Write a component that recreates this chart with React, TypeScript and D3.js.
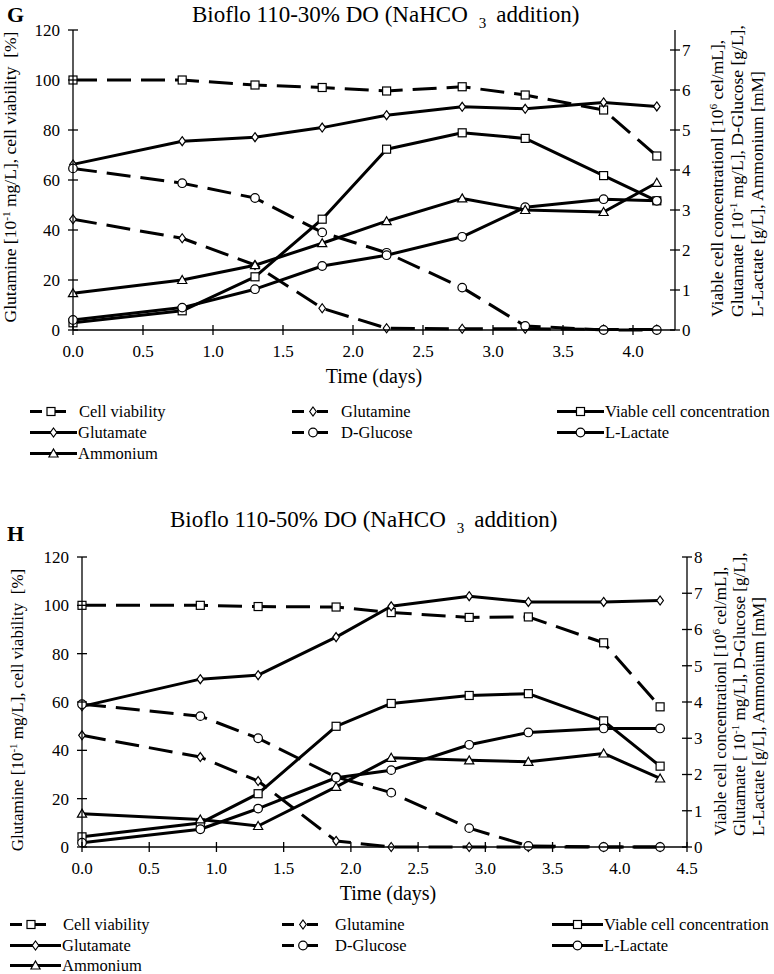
import React from 'react';
import * as d3 from 'd3';

// ---------- DATA: Panel G (Bioflo 110-30% DO) ----------
const timeG = [0, 0.78, 1.3, 1.78, 2.24, 2.78, 3.23, 3.79, 4.17];
const cellViabilityG = [100, 100, 98, 97, 95.6, 97.3, 94, 88, 69.6];
const glutamineG = [44.3, 36.7, 26, 8.7, 0.7, 0.5, 0.5, 0.2, 0.2];
const viableCellsG = [0.18, 0.48, 1.33, 2.77, 4.52, 4.93, 4.79, 3.86, 3.23];
const glutamateG = [4.14, 4.72, 4.82, 5.06, 5.37, 5.58, 5.53, 5.69, 5.59];
const glucoseG = [4.04, 3.67, 3.3, 2.44, 1.93, 1.06, 0.1, 0.0, 0.0];
const lactateG = [0.25, 0.56, 1.02, 1.6, 1.87, 2.33, 3.07, 3.27, 3.23];
const ammoniumG = [0.92, 1.25, 1.62, 2.17, 2.72, 3.29, 3.0, 2.95, 3.68];

// ---------- DATA: Panel H (Bioflo 110-50% DO) ----------
const timeH = [0, 0.88, 1.31, 1.89, 2.3, 2.88, 3.32, 3.88, 4.3];
const cellViabilityH = [100, 100, 99.5, 99.3, 97, 95, 95.2, 84.5, 58];
const glutamineH = [46.2, 37.2, 27.3, 2.5, 0, 0, 0, 0, 0];
const viableCellsH = [0.28, 0.66, 1.47, 3.33, 3.96, 4.18, 4.23, 3.48, 2.23];
const glutamateH = [3.88, 4.63, 4.74, 5.79, 6.64, 6.92, 6.76, 6.76, 6.8];
const glucoseH = [3.94, 3.61, 3.0, 1.93, 1.5, 0.52, 0.03, 0, 0];
const lactateH = [0.12, 0.49, 1.06, 1.91, 2.12, 2.82, 3.16, 3.27, 3.27];
const ammoniumH = [0.92, 0.76, 0.58, 1.66, 2.46, 2.39, 2.35, 2.58, 1.89];

// ---------- Tick labels ----------
const xTicksG = [0, 0.5, 1, 1.5, 2, 2.5, 3, 3.5, 4];
const xTicksH = [0, 0.5, 1, 1.5, 2, 2.5, 3, 3.5, 4, 4.5];
const leftTicks = [0, 20, 40, 60, 80, 100, 120];
const rightTicksG = [0, 1, 2, 3, 4, 5, 6, 7];
const rightTicksH = [0, 1, 2, 3, 4, 5, 6, 7, 8];

const seriesNames = [
  'Cell viability',
  'Glutamine',
  'Viable cell concentration',
  'Glutamate',
  'D-Glucose',
  'L-Lactate',
  'Ammonium',
];

type Shape = 'square' | 'diamond' | 'circle' | 'triangle';
interface SeriesStyle { axis: 'left' | 'right'; dashed: boolean; shape: Shape }
const seriesStyles: SeriesStyle[] = [
  { axis: 'left', dashed: true, shape: 'square' },
  { axis: 'left', dashed: true, shape: 'diamond' },
  { axis: 'right', dashed: false, shape: 'square' },
  { axis: 'right', dashed: false, shape: 'diamond' },
  { axis: 'right', dashed: true, shape: 'circle' },
  { axis: 'right', dashed: false, shape: 'circle' },
  { axis: 'right', dashed: false, shape: 'triangle' },
];

const FONT = '"Liberation Serif", "Times New Roman", Times, serif';

function Marker({ shape, x, y }: { shape: Shape; x: number; y: number }) {
  const common = { fill: '#fff', stroke: '#000', strokeWidth: 1.2 };
  if (shape === 'square') return <rect x={x - 4} y={y - 4} width={8} height={8} {...common} />;
  if (shape === 'circle') return <circle cx={x} cy={y} r={4.3} {...common} />;
  if (shape === 'diamond')
    return <path d={`M${x},${y - 4.5}L${x + 3.3},${y}L${x},${y + 4.5}L${x - 3.3},${y}Z`} {...common} />;
  return <path d={`M${x},${y - 4.5}L${x + 4.6},${y + 3.5}L${x - 4.6},${y + 3.5}Z`} {...common} />;
}

interface PanelCfg {
  xL: number; xR: number; yT: number; yB: number;
  xMax: number; xTicks: number[]; rightMax: number; rightTicks: number[];
  letter: string; letterY: number;
  title: string; titleX: number; titleY: number;
  leftLabelX: number; leftLabelY: number; axisLabelSize: number;
  rightLabelXs: number[]; rightLabelY: number;
  xLabelX: number; xLabelY: number;
  legendX0: number[]; legendYs: number[]; legendLen: number;
}

function Panel({ cfg, time, values }: { cfg: PanelCfg; time: number[]; values: number[][] }) {
  const x = d3.scaleLinear().domain([0, cfg.xMax]).range([cfg.xL, cfg.xR]);
  const yL = d3.scaleLinear().domain([0, 120]).range([cfg.yB, cfg.yT]);
  const yR = d3.scaleLinear().domain([0, cfg.rightMax]).range([cfg.yB, cfg.yT]);
  const tick = 5;

  const legendPos = (i: number) => {
    const row = Math.floor(i / 3);
    const col = i % 3;
    return { x0: cfg.legendX0[col], y: cfg.legendYs[row] };
  };

  return (
    <g fontFamily={FONT} fill="#000">
      {/* letter and title */}
      <text x={7} y={cfg.letterY} fontSize={22} fontWeight="bold">{cfg.letter}</text>
      <text x={cfg.titleX} y={cfg.titleY} fontSize={23}>
        {cfg.title}
        <tspan dx={11} dy={6} fontSize={15}>3</tspan>
        <tspan dx={10} dy={-6}>addition)</tspan>
      </text>

      {/* series */}
      {values.map((vals, si) => {
        const st = seriesStyles[si];
        const ys = st.axis === 'left' ? yL : yR;
        const pts = time.map((t, i) => [t, vals[i]] as [number, number]);
        const line = d3.line<[number, number]>().x((d) => x(d[0])).y((d) => ys(d[1]));
        return (
          <g key={si}>
            <path d={line(pts) || ''} fill="none" stroke="#000" strokeWidth={3}
              strokeDasharray={st.dashed ? '24,10' : undefined} strokeLinejoin="round" />
            {pts.map((p, i) => <Marker key={i} shape={st.shape} x={x(p[0])} y={ys(p[1])} />)}
          </g>
        );
      })}

      {/* axes */}
      <g stroke="#000" strokeWidth={1.3}>
        <line x1={cfg.xL} x2={cfg.xL} y1={cfg.yT} y2={cfg.yB} />
        <line x1={cfg.xR} x2={cfg.xR} y1={cfg.yT} y2={cfg.yB} />
        <line x1={cfg.xL} x2={cfg.xR} y1={cfg.yB} y2={cfg.yB} />
        {leftTicks.map((t) => <line key={'l' + t} x1={cfg.xL - tick} x2={cfg.xL + tick} y1={yL(t)} y2={yL(t)} />)}
        {cfg.rightTicks.map((t) => <line key={'r' + t} x1={cfg.xR - tick} x2={cfg.xR + tick} y1={yR(t)} y2={yR(t)} />)}
        {cfg.xTicks.map((t) => <line key={'x' + t} x1={x(t)} x2={x(t)} y1={cfg.yB - tick} y2={cfg.yB + tick} />)}
      </g>
      <g fontSize={17}>
        {leftTicks.map((t) => (
          <text key={'lt' + t} x={cfg.xL - 13} y={yL(t)} dy="0.35em" textAnchor="end">{t}</text>
        ))}
        {cfg.rightTicks.map((t) => (
          <text key={'rt' + t} x={cfg.xR + 7} y={yR(t)} dy="0.35em" textAnchor="start">{t}</text>
        ))}
        {cfg.xTicks.map((t) => (
          <text key={'xt' + t} x={x(t)} y={cfg.yB + 27} textAnchor="middle">{d3.format('.1f')(t)}</text>
        ))}
      </g>

      {/* axis titles */}
      <text x={cfg.xLabelX} y={cfg.xLabelY} fontSize={20} textAnchor="middle">Time (days)</text>
      <text transform={`translate(${cfg.leftLabelX},${cfg.leftLabelY}) rotate(-90)`} fontSize={cfg.axisLabelSize}
        textAnchor="middle" style={{ whiteSpace: 'pre' }}>
        Glutamine [10<tspan dy={-6} fontSize={cfg.axisLabelSize * 0.65}>-1</tspan>
        <tspan dy={6}> mg/L], cell viability  [%]</tspan>
      </text>
      <g fontSize={cfg.axisLabelSize} style={{ whiteSpace: 'pre' }}>
        <text transform={`translate(${cfg.rightLabelXs[0]},${cfg.rightLabelY}) rotate(-90)`}>
          Viable cell concentrationl [10<tspan dy={-6} fontSize={cfg.axisLabelSize * 0.65}>6</tspan>
          <tspan dy={6}> cel/mL],</tspan>
        </text>
        <text transform={`translate(${cfg.rightLabelXs[1]},${cfg.rightLabelY}) rotate(-90)`}>
          Glutamate [ 10<tspan dy={-6} fontSize={cfg.axisLabelSize * 0.65}>-1</tspan>
          <tspan dy={6}> mg/L], D-Glucose [g/L],</tspan>
        </text>
        <text transform={`translate(${cfg.rightLabelXs[2]},${cfg.rightLabelY}) rotate(-90)`}>
          L-Lactate [g/L], Ammonium [mM]
        </text>
      </g>

      {/* legend */}
      {seriesNames.map((name, i) => {
        const st = seriesStyles[i];
        const { x0, y } = legendPos(i);
        const cy = y - 5.5;
        if (st.dashed) {
          return (
            <g key={'lg' + i}>
              <line x1={x0} x2={x0 + 36} y1={cy} y2={cy} stroke="#000" strokeWidth={3} strokeDasharray="12,13" />
              <Marker shape={st.shape} x={x0 + 21} y={cy} />
              <text x={x0 + cfg.legendLen + 2} y={y} fontSize={16.5}>{name}</text>
            </g>
          );
        }
        return (
          <g key={'lg' + i}>
            <line x1={x0} x2={x0 + cfg.legendLen} y1={cy} y2={cy} stroke="#000" strokeWidth={3} />
            <Marker shape={st.shape} x={x0 + cfg.legendLen / 2} y={cy} />
            <text x={x0 + cfg.legendLen + 1} y={y} fontSize={16.5}>{name}</text>
          </g>
        );
      })}
    </g>
  );
}

const cfgG: PanelCfg = {
  xL: 73, xR: 675, yT: 30, yB: 330,
  xMax: 4.3, xTicks: xTicksG, rightMax: 7.5, rightTicks: rightTicksG,
  letter: 'G', letterY: 22,
  title: 'Bioflo 110-30% DO (NaHCO', titleX: 192, titleY: 22,
  leftLabelX: 15.5, leftLabelY: 177, axisLabelSize: 17.5,
  rightLabelXs: [723, 743, 763], rightLabelY: 317,
  xLabelX: 374, xLabelY: 383,
  legendX0: [30, 292, 557], legendYs: [417, 438, 459], legendLen: 47,
};

const cfgH: PanelCfg = {
  xL: 82, xR: 687, yT: 557, yB: 847,
  xMax: 4.5, xTicks: xTicksH, rightMax: 8, rightTicks: rightTicksH,
  letter: 'H', letterY: 541,
  title: 'Bioflo 110-50% DO (NaHCO', titleX: 170, titleY: 527,
  leftLabelX: 22.5, leftLabelY: 710, axisLabelSize: 17,
  rightLabelXs: [726, 745, 764], rightLabelY: 836,
  xLabelX: 388, xLabelY: 900,
  legendX0: [10, 282, 552], legendYs: [930, 951, 971], legendLen: 51,
};

export default function App() {
  const valsG = [cellViabilityG, glutamineG, viableCellsG, glutamateG, glucoseG, lactateG, ammoniumG];
  const valsH = [cellViabilityH, glutamineH, viableCellsH, glutamateH, glucoseH, lactateH, ammoniumH];
  return (
    <svg width={774} height={974} style={{ position: 'absolute', left: 0, top: 0, background: '#fff' }}>
      <rect width={774} height={974} fill="#fff" />
      <Panel cfg={cfgG} time={timeG} values={valsG} />
      <Panel cfg={cfgH} time={timeH} values={valsH} />
    </svg>
  );
}
